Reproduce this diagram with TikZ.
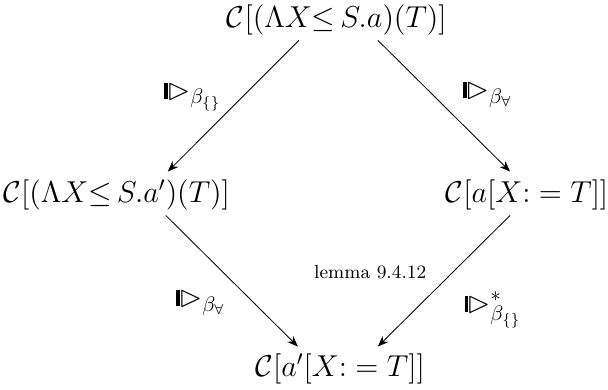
\documentclass[tikz,border=0pt]{standalone}
\usepackage{amsmath,amssymb}
\usetikzlibrary{arrows.meta,positioning}

% reduction step: triangle with a heavy left side
\newcommand{\redstep}{\mathrel{\rlap{\kern0.2em\vrule height 0.55em depth -0.02em width 0.11em}\vartriangleright}}

\begin{document}
\begin{tikzpicture}[
  term/.style={inner sep=2pt, font=\Large},
  arrow/.style={-{Stealth[length=1.8mm,width=1.4mm]}, thin},
  lbl/.style={font=\Large, inner sep=1pt},
  note/.style={font=\small}
]
  \useasboundingbox (0,0) rectangle (10.18,6.53);

  % terms
  \node[term] (top) at (5.64,6.20) {$\mathcal{C}[(\Lambda X{\leq}\,S.a)(T)]$};
  \node[term, anchor=west] (left)  at (-0.02,3.265) {$\mathcal{C}[(\Lambda X{\leq}\,S.a')(T)]$};
  \node[term, anchor=west] (right) at (7.385,3.265) {$\mathcal{C}[a[X{:}=T]]$};
  \node[term, anchor=west] (bot)   at (4.20,0.352) {$\mathcal{C}[a'[X{:}=T]]$};

  % reductions
  \draw[arrow] ([xshift=-0.636cm,yshift=-0.015cm]top.south)
    -- ([xshift=2.83cm,yshift=0.062cm]left.north west);
  \draw[arrow] ([xshift=0.687cm,yshift=-0.015cm]top.south)
    -- ([xshift=1.155cm,yshift=0.062cm]right.north west);
  \draw[arrow] ([xshift=2.796cm,yshift=-0.012cm]left.south west)
    -- ([xshift=0.787cm,yshift=0.045cm]bot.north west);
  \draw[arrow] ([xshift=1.155cm,yshift=-0.012cm]right.south west)
    -- ([xshift=2.127cm,yshift=0.045cm]bot.north west);

  % labels
  \node[lbl] (l1) at (3.18,4.906) {$\redstep_{\beta_{\{\}}}$};
  \node[lbl] (l2) at (8.12,4.94) {$\redstep_{\beta_{\forall}}$};
  \node[lbl] (l3) at (3.316,1.457) {$\redstep_{\beta_{\forall}}$};
  \node[lbl] (l4) at (8.205,1.34) {$\redstep^{*}_{\beta_{\{\}}}$};
  \node[note] (lem) at (6.20,1.976) {lemma 9.4.12};
\end{tikzpicture}
\end{document}
